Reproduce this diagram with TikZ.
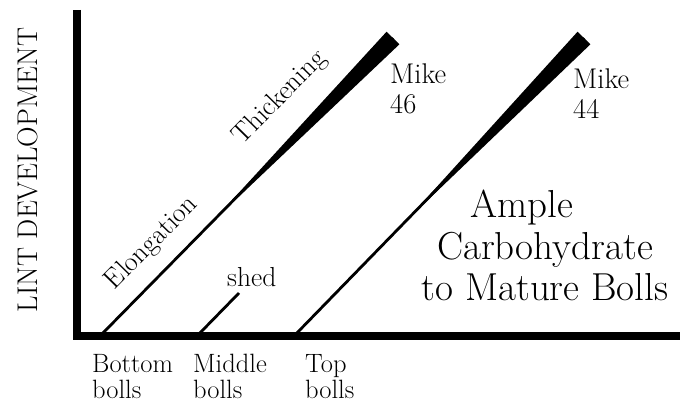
\documentclass[tikz,border=0pt]{standalone}
\usepackage{tikz}
\usetikzlibrary{calc}
\tikzset{
  axis/.style  ={draw=black, line width=8pt, line join=miter},
  boll/.style  ={draw=black, line width=2.8pt},
  lbl/.style   ={font=\fontsize{27.5}{26.5}\selectfont, inner sep=0pt, align=left},
  xlbl/.style  ={lbl, font=\fontsize{26.5}{26}\selectfont},
  mk/.style    ={lbl, font=\fontsize{28.5}{30}\selectfont},
  big/.style   ={font=\fontsize{39}{41.5}\selectfont, inner sep=0pt, align=center},
}

\begin{document}
\begin{tikzpicture}[x=1pt,y=-1pt]
  \useasboundingbox (0,0) rectangle (680,403);
  % axes
  \coordinate (ytop) at (76.5,10);
  \coordinate (o)    at (76.5,336);
  \coordinate (xend) at (680,336);
  \draw[axis] (ytop) -- (o) -- (xend);
  \node[mk,rotate=90] (ylab) at (28,170) {LINT DEVELOPMENT};
  % boll lines, the two full ones thicken towards the top
  \coordinate (b0) at (100,336); \coordinate (b1) at (393,38);
  \coordinate (m0) at (197,336); \coordinate (m1) at (239,293);
  \coordinate (t0) at (294,336); \coordinate (t1) at (584,38);
  \foreach \s/\e in {b0/b1,t0/t1} {
    \draw[boll] (\s) -- (\e);
    \fill ($(\s)!0.38!(\e)$) -- ($(\e)!9pt!90:(\s)$) -- ($(\e)!9pt!-90:(\s)$) -- cycle;
  }
  \draw[boll] (m0) -- (m1);
  \node[lbl,rotate=45.5] (elong) at (152,243) {Elongation};
  \node[lbl,rotate=45.5] (thick) at (280,98)  {Thickening};
  \node[lbl,anchor=base west] (shed) at (227,287) {shed};
  \node[mk,anchor=north west] (mk46) at (390,64) {Mike\\46};
  \node[mk,anchor=north west] (mk44) at (573,69) {Mike\\44};
  \node[big,anchor=north] (carb) at (545,190) {\hspace*{-46pt}Ample\\Carbohydrate\\to Mature Bolls};
  % x axis labels
  \node[xlbl,anchor=north west] (bot) at (92,354)  {Bottom\\bolls};
  \node[xlbl,anchor=north west] (mid) at (193,354) {Middle\\bolls};
  \node[xlbl,anchor=north west] (top) at (305,354) {Top\\bolls};
\end{tikzpicture}
\end{document}
